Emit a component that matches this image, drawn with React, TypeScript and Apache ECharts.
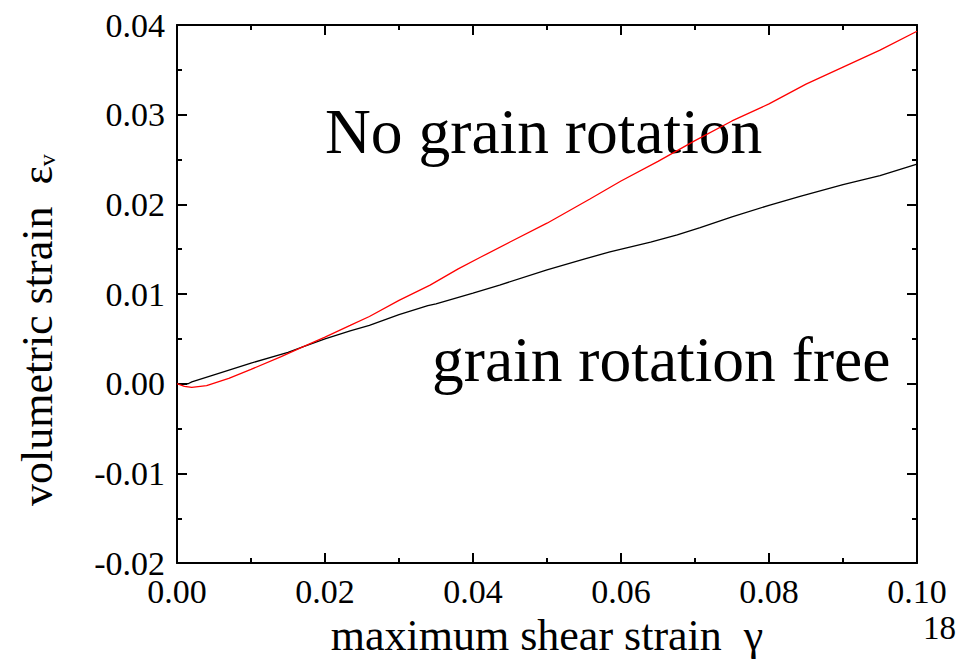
import React, { useEffect, useRef } from "react";
import * as echarts from "echarts";

const shearStrain = [0, 0.001, 0.002, 0.004, 0.007, 0.01, 0.014, 0.017, 0.02, 0.0234, 0.026, 0.03, 0.0342, 0.038, 0.041, 0.045, 0.05, 0.0558, 0.06, 0.065, 0.07, 0.075, 0.08, 0.085, 0.09, 0.095, 0.1];
const noRotation = [0, -0.0003, -0.0004, -0.0002, 0.0006, 0.0016, 0.003, 0.0041, 0.0052, 0.0065, 0.0075, 0.0093, 0.011, 0.0128, 0.0141, 0.0158, 0.0179, 0.0206, 0.0226, 0.0248, 0.0271, 0.0293, 0.0312, 0.0334, 0.0353, 0.0372, 0.0393];

const shearStrainFree = [0, 0.001, 0.0015, 0.002, 0.005, 0.01, 0.015, 0.017, 0.02, 0.0234, 0.026, 0.03, 0.0339, 0.035, 0.04, 0.0436, 0.05, 0.055, 0.0585, 0.064, 0.0676, 0.0707, 0.075, 0.08, 0.0842, 0.09, 0.095, 0.1];
const rotationFree = [0, 0.0, 0.0, 0.0002, 0.001, 0.0023, 0.0035, 0.0041, 0.005, 0.0059, 0.0065, 0.0077, 0.0087, 0.0089, 0.0101, 0.011, 0.0127, 0.0139, 0.0147, 0.0158, 0.0166, 0.0174, 0.0186, 0.0199, 0.0209, 0.0222, 0.0232, 0.0245];

const xTitle = "maximum shear strain  γ";
const yTitle = "volumetric strain  ε";
const yTitleSub = "v";
const labelNoRot = "No grain rotation";
const labelFree = "grain rotation free";
const pageNumber = "18";

const FONT = "'Liberation Serif', 'Times New Roman', serif";

export default function App() {
  const ref = useRef<HTMLDivElement>(null);
  useEffect(() => {
    if (!ref.current) return;
    const chart = echarts.init(ref.current, null, { renderer: "svg" });
    const axisCommon = {
      type: "value",
      axisLine: { show: true, onZero: false, lineStyle: { color: "#000", width: 2 } },
      axisTick: { show: true, inside: true, length: 10, lineStyle: { color: "#000", width: 2 } },
      minorTick: { show: true, splitNumber: 2, length: 5, lineStyle: { color: "#000", width: 2 } },
      splitLine: { show: false },
    };
    chart.setOption({
      animation: false,
      textStyle: { fontFamily: FONT },
      grid: { left: 177, top: 25, right: 46, bottom: 95 },
      xAxis: [
        {
          ...axisCommon,
          position: "bottom",
          min: 0,
          max: 0.1,
          interval: 0.02,
          axisLabel: {
            color: "#000",
            fontSize: 34,
            fontFamily: FONT,
            margin: 11,
            formatter: (v: number) => v.toFixed(2),
          },
          name: xTitle,
          nameLocation: "middle",
          nameGap: 48,
          nameTextStyle: { color: "#000", fontSize: 44, fontFamily: FONT },
        },
        {
          ...axisCommon,
          position: "top",
          min: 0,
          max: 0.1,
          interval: 0.02,
          axisLabel: { show: false },
        },
      ],
      yAxis: [
        {
          ...axisCommon,
          position: "left",
          min: -0.02,
          max: 0.04,
          interval: 0.01,
          axisLabel: {
            color: "#000",
            fontSize: 34,
            fontFamily: FONT,
            margin: 12,
            formatter: (v: number) => v.toFixed(2),
          },
          name: "{a|" + yTitle + "}{s|" + yTitleSub + "}",
          nameLocation: "middle",
          nameGap: 118,
          nameTextStyle: {
            color: "#000",
            fontFamily: FONT,
            padding: [0, 72, 0, 0],
            rich: {
              a: { fontSize: 44, lineHeight: 44, fontFamily: FONT, color: "#000" },
              s: { fontSize: 24, lineHeight: 20, verticalAlign: "bottom", fontFamily: FONT, color: "#000" },
            },
          },
        },
        {
          ...axisCommon,
          position: "right",
          min: -0.02,
          max: 0.04,
          interval: 0.01,
          axisLabel: { show: false },
        },
      ],
      series: [
        {
          name: "grain rotation free",
          type: "line",
          data: shearStrainFree.map((x, i) => [x, rotationFree[i]]),
          showSymbol: false,
          lineStyle: { color: "#000", width: 1.3 },
          z: 3,
        },
        {
          name: "No grain rotation",
          type: "line",
          data: shearStrain.map((x, i) => [x, noRotation[i]]),
          showSymbol: false,
          lineStyle: { color: "#ff0000", width: 1.3 },
          z: 4,
        },
      ],
      graphic: [
        {
          type: "text",
          x: 325,
          y: 131,
          z: 1,
          style: { text: labelNoRot, font: "63.5px " + FONT, fill: "#000", align: "left", verticalAlign: "middle" },
        },
        {
          type: "text",
          x: 432,
          y: 359,
          z: 1,
          style: { text: labelFree, font: "63.5px " + FONT, fill: "#000", align: "left", verticalAlign: "middle" },
        },
        {
          type: "text",
          x: 923,
          y: 628,
          z: 1,
          style: { text: pageNumber, font: "33px " + FONT, fill: "#000", align: "left", verticalAlign: "middle" },
        },
      ],
    });
    return () => chart.dispose();
  }, []);
  return <div ref={ref} style={{ width: 963, height: 662, position: "absolute", left: 0, top: 0 }} />;
}
